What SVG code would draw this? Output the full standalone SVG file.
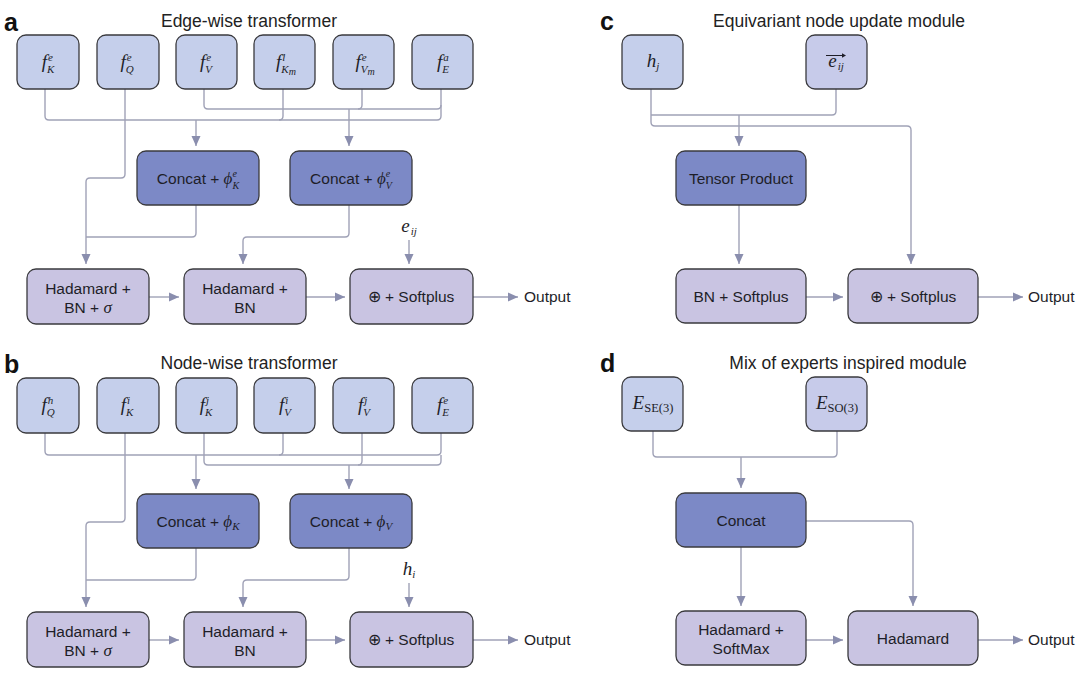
<svg xmlns="http://www.w3.org/2000/svg" width="1080" height="678" viewBox="0 0 1080 678">
<defs>
<marker id="ah" markerUnits="userSpaceOnUse" markerWidth="10" markerHeight="10" refX="10" refY="5" orient="auto">
<path d="M0,0.5 L10,5 L0,9.5 z" fill="#8a8eae"/>
</marker>
<style>
.in{fill:#c5cfeb;stroke:#3a3a3e;stroke-width:1.3}
.cc{fill:#7c89c6;stroke:#3a3a3e;stroke-width:1.3}
.bt{fill:#c9c4e2;stroke:#3a3a3e;stroke-width:1.3}
.ln{fill:none;stroke:#a0a2b7;stroke-width:1.4}
.ar{marker-end:url(#ah)}
.t{font-family:"Liberation Sans",Arial,sans-serif;font-size:15.5px;fill:#1e1e28;text-anchor:middle}
.ti{font-family:"Liberation Sans",Arial,sans-serif;font-size:17.5px;fill:#222;text-anchor:middle}
.lab{font-family:"Liberation Sans",Arial,sans-serif;font-size:25px;font-weight:bold;fill:#111}
.m{font-family:"Liberation Serif","DejaVu Serif",serif;font-style:italic;font-size:19px;fill:#1e1e28;text-anchor:middle}
.mi{font-family:"Liberation Serif","DejaVu Serif",serif;font-style:italic}
.s{font-size:11px}
.ss{font-size:10px}
.up{font-style:normal}
</style>
</defs>

<!-- Panel labels and titles -->
<text class="lab" x="4" y="31">a</text>
<text class="ti" x="249" y="27">Edge-wise transformer</text>
<text class="lab" x="4" y="373">b</text>
<text class="ti" x="249" y="369">Node-wise transformer</text>
<text class="lab" x="600" y="30">c</text>
<text class="ti" x="839" y="27">Equivariant node update module</text>
<text class="lab" x="600" y="372">d</text>
<text class="ti" x="848" y="369">Mix of experts inspired module</text>

<!-- Connectors -->
<g id="connectors">
<path class="ln" d="M45,89 V116 Q45,120 49,120 H437 Q441,120 441,116 V89"/>
<path class="ln" d="M283,89 V116 Q283,120 279,120"/>
<path class="ln ar" d="M196,120 V146"/>
<path class="ln" d="M204,89 V105 Q204,109 208,109 H437 Q441,109 441,105"/>
<path class="ln" d="M362,89 V105 Q362,109 358,109"/>
<path class="ln ar" d="M349,109 V146"/>
<path class="ln ar" d="M125,89 V174 Q125,178 121,178 H90 Q86,178 86,182 V264"/>
<path class="ln" d="M196,205 V233 Q196,237 192,237 H86"/>
<path class="ln ar" d="M349,205 V233 Q349,237 345,237 H247 Q243,237 243,241 V264"/>
<path class="ln ar" d="M409,240 V264"/>
<path class="ln ar" d="M149,297 H179"/>
<path class="ln ar" d="M306,297 H345"/>
<path class="ln ar" d="M473,297 H518"/>
<path class="ln" d="M45,433 V451 Q45,455 49,455 H437 Q441,455 441,451 V433"/>
<path class="ln" d="M283,433 V451 Q283,455 279,455"/>
<path class="ln ar" d="M196,455 V489"/>
<path class="ln" d="M204,433 V461 Q204,465 208,465 H437 Q441,465 441,461 V455"/>
<path class="ln" d="M362,433 V461 Q362,465 358,465"/>
<path class="ln ar" d="M349,465 V489"/>
<path class="ln ar" d="M125,433 V518 Q125,522 121,522 H90 Q86,522 86,526 V607"/>
<path class="ln" d="M196,548 V576 Q196,580 192,580 H86"/>
<path class="ln ar" d="M349,548 V576 Q349,580 345,580 H247 Q243,580 243,584 V607"/>
<path class="ln ar" d="M409,583 V607"/>
<path class="ln ar" d="M149,640 H179"/>
<path class="ln ar" d="M306,640 H345"/>
<path class="ln ar" d="M473,640 H518"/>
<path class="ln ar" d="M651,89 V122 Q651,126 655,126 H907 Q911,126 911,130 V264"/>
<path class="ln" d="M836,89 V111 Q836,115 832,115 H651"/>
<path class="ln ar" d="M739,115 V146"/>
<path class="ln ar" d="M739,205 V264"/>
<path class="ln ar" d="M806,297 H843"/>
<path class="ln ar" d="M978,297 H1023"/>
<path class="ln" d="M653,431 V453 Q653,457 657,457 H833 Q837,457 837,453 V431"/>
<path class="ln ar" d="M741,457 V488"/>
<path class="ln ar" d="M806,521 H909 Q913,521 913,525 V606"/>
<path class="ln ar" d="M741,547 V606"/>
<path class="ln ar" d="M806,640 H843"/>
<path class="ln ar" d="M978,640 H1023"/>
</g>

<!-- Panel a nodes -->
<g id="a_fKe"><rect class="in" x="17" y="35" width="62" height="54" rx="9"/>
<text class="m" x="48" y="68">f<tspan class="s" dx="1" dy="-7.5">e</tspan><tspan class="s" dx="-5.9" dy="12">K</tspan></text></g>
<g id="a_fQe"><rect class="in" x="97" y="35" width="62" height="54" rx="9"/>
<text class="m" x="127" y="68">f<tspan class="s" dx="1" dy="-7.5">e</tspan><tspan class="s" dx="-5.9" dy="12">Q</tspan></text></g>
<g id="a_fVe"><rect class="in" x="176" y="35" width="61" height="54" rx="9"/>
<text class="m" x="206" y="68">f<tspan class="s" dx="1" dy="-7.5">e</tspan><tspan class="s" dx="-5.9" dy="12">V</tspan></text></g>
<g id="a_fKml"><rect class="in" x="254" y="35" width="61" height="54" rx="9"/>
<text class="m" x="286" y="68">f<tspan class="s" dx="1" dy="-7.5">l</tspan><tspan class="s" dx="-4.1" dy="12">K</tspan><tspan class="ss" dy="2.5">m</tspan></text></g>
<g id="a_fVme"><rect class="in" x="333" y="35" width="61" height="54" rx="9"/>
<text class="m" x="365" y="68">f<tspan class="s" dx="1" dy="-7.5">e</tspan><tspan class="s" dx="-5.9" dy="12">V</tspan><tspan class="ss" dy="2.5">m</tspan></text></g>
<g id="a_fEa"><rect class="in" x="412" y="35" width="61" height="54" rx="9"/>
<text class="m" x="443" y="68">f<tspan class="s" dx="1" dy="-7.5">a</tspan><tspan class="s" dx="-6.5" dy="12">E</tspan></text></g>
<g id="a_concatK"><rect class="cc" x="137" y="151" width="122" height="54" rx="9"/>
<text class="t" x="198" y="184">Concat + <tspan class="mi" font-size="17px">ϕ</tspan><tspan class="mi ss" dy="-7">e</tspan><tspan class="mi ss" dx="-4.4" dy="11.5">K</tspan></text></g>
<g id="a_concatV"><rect class="cc" x="290" y="151" width="122" height="54" rx="9"/>
<text class="t" x="351" y="184">Concat + <tspan class="mi" font-size="17px">ϕ</tspan><tspan class="mi ss" dy="-7">e</tspan><tspan class="mi ss" dx="-4.4" dy="11.5">V</tspan></text></g>
<g id="a_had1"><rect class="bt" x="27" y="269" width="122" height="55" rx="9"/>
<text class="t" x="88" y="294">Hadamard +</text>
<text class="t" x="88" y="313">BN + <tspan class="mi" font-size="17px">σ</tspan></text></g>
<g id="a_had2"><rect class="bt" x="184" y="269" width="122" height="55" rx="9"/>
<text class="t" x="245" y="294">Hadamard +</text>
<text class="t" x="245" y="313">BN</text></g>
<g id="a_soft"><rect class="bt" x="350" y="269" width="123" height="55" rx="9"/>
<text class="t" x="411" y="302">⊕ + Softplus</text></g>
<g id="a_eij"><text class="m" x="409" y="232">e<tspan class="s" dx="1" dy="3">ij</tspan></text></g>
<g id="a_out"><text class="t" x="524" y="302" style="text-anchor:start">Output</text></g>

<!-- Panel b nodes -->
<g id="b_fQh"><rect class="in" x="17" y="378" width="62" height="55" rx="9"/>
<text class="m" x="48" y="411">f<tspan class="s" dx="1" dy="-7.5">h</tspan><tspan class="s" dx="-6.5" dy="12">Q</tspan></text></g>
<g id="b_fKi"><rect class="in" x="97" y="378" width="62" height="55" rx="9"/>
<text class="m" x="127" y="411">f<tspan class="s" dx="1" dy="-7.5">i</tspan><tspan class="s" dx="-4.1" dy="12">K</tspan></text></g>
<g id="b_fKj"><rect class="in" x="176" y="378" width="61" height="55" rx="9"/>
<text class="m" x="206" y="411">f<tspan class="s" dx="1" dy="-7.5">j</tspan><tspan class="s" dx="-4.1" dy="12">K</tspan></text></g>
<g id="b_fVi"><rect class="in" x="254" y="378" width="61" height="55" rx="9"/>
<text class="m" x="285" y="411">f<tspan class="s" dx="1" dy="-7.5">i</tspan><tspan class="s" dx="-4.1" dy="12">V</tspan></text></g>
<g id="b_fVj"><rect class="in" x="333" y="378" width="61" height="55" rx="9"/>
<text class="m" x="364" y="411">f<tspan class="s" dx="1" dy="-7.5">j</tspan><tspan class="s" dx="-4.1" dy="12">V</tspan></text></g>
<g id="b_fEe"><rect class="in" x="412" y="378" width="61" height="55" rx="9"/>
<text class="m" x="443" y="411">f<tspan class="s" dx="1" dy="-7.5">e</tspan><tspan class="s" dx="-5.9" dy="12">E</tspan></text></g>
<g id="b_concatK"><rect class="cc" x="137" y="494" width="122" height="54" rx="9"/>
<text class="t" x="198" y="527">Concat + <tspan class="mi" font-size="17px">ϕ</tspan><tspan class="mi s" dy="3">K</tspan></text></g>
<g id="b_concatV"><rect class="cc" x="290" y="494" width="122" height="54" rx="9"/>
<text class="t" x="351" y="527">Concat + <tspan class="mi" font-size="17px">ϕ</tspan><tspan class="mi s" dy="3">V</tspan></text></g>
<g id="b_had1"><rect class="bt" x="27" y="612" width="122" height="55" rx="9"/>
<text class="t" x="88" y="637">Hadamard +</text>
<text class="t" x="88" y="656">BN + <tspan class="mi" font-size="17px">σ</tspan></text></g>
<g id="b_had2"><rect class="bt" x="184" y="612" width="122" height="55" rx="9"/>
<text class="t" x="245" y="637">Hadamard +</text>
<text class="t" x="245" y="656">BN</text></g>
<g id="b_soft"><rect class="bt" x="350" y="612" width="123" height="55" rx="9"/>
<text class="t" x="411" y="645">⊕ + Softplus</text></g>
<g id="b_hi"><text class="m" x="409" y="575">h<tspan class="s" dy="3">i</tspan></text></g>
<g id="b_out"><text class="t" x="524" y="645" style="text-anchor:start">Output</text></g>

<!-- Panel c nodes -->
<g id="c_hj"><rect class="in" x="622" y="35" width="61" height="54" rx="9"/>
<text class="m" x="653" y="67">h<tspan class="s" dy="3">j</tspan></text></g>
<g id="c_eij"><rect class="in" x="806" y="35" width="61" height="54" rx="9" style="fill:#c7cbea"/>
<text class="m" x="836" y="67">e<tspan class="s" dx="1" dy="3">ij</tspan></text>
<path d="M826,55.5 H845" stroke="#1e1e28" stroke-width="1" fill="none"/>
<path d="M846,55.5 L842,53.3 L842,57.7 z" fill="#1e1e28"/></g>
<g id="c_tp"><rect class="cc" x="676" y="151" width="130" height="54" rx="9"/>
<text class="t" x="741" y="184">Tensor Product</text></g>
<g id="c_bn"><rect class="bt" x="676" y="269" width="130" height="54" rx="9"/>
<text class="t" x="741" y="302">BN + Softplus</text></g>
<g id="c_soft"><rect class="bt" x="848" y="269" width="130" height="54" rx="9"/>
<text class="t" x="913" y="302">⊕ + Softplus</text></g>
<g id="c_out"><text class="t" x="1028" y="302" style="text-anchor:start">Output</text></g>

<!-- Panel d nodes -->
<g id="d_ese"><rect class="in" x="622" y="377" width="61" height="54" rx="9"/>
<text class="m" x="653" y="409">E<tspan class="up" font-size="12.5px" dy="3">SE(3)</tspan></text></g>
<g id="d_eso"><rect class="in" x="806" y="377" width="61" height="54" rx="9" style="fill:#c7cbea"/>
<text class="m" x="837" y="409">E<tspan class="up" font-size="12.5px" dy="3">SO(3)</tspan></text></g>
<g id="d_concat"><rect class="cc" x="676" y="493" width="130" height="54" rx="9"/>
<text class="t" x="741" y="526">Concat</text></g>
<g id="d_hsm"><rect class="bt" x="676" y="611" width="130" height="54" rx="9"/>
<text class="t" x="741" y="635">Hadamard +</text>
<text class="t" x="741" y="654">SoftMax</text></g>
<g id="d_had"><rect class="bt" x="848" y="611" width="130" height="54" rx="9"/>
<text class="t" x="913" y="644">Hadamard</text></g>
<g id="d_out"><text class="t" x="1028" y="645" style="text-anchor:start">Output</text></g>
</svg>
